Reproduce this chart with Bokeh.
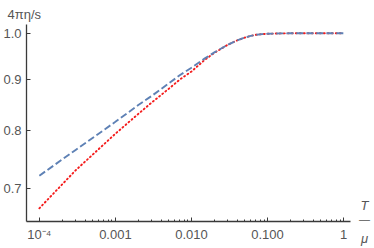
from bokeh.plotting import figure
from bokeh.models import Range1d, FixedTicker, Label
from bokeh.layouts import row
from bokeh.embed import file_html
from bokeh.resources import INLINE

# data
T = [1e-4, 3e-4, 1e-3, 2e-3, 3e-3, 5e-3, 7e-3, 0.01, 0.015, 0.02, 0.03, 0.04, 0.05, 0.06, 0.07, 0.085, 0.1, 0.15, 0.2, 0.5, 1.0]
eta_blue = [0.721, 0.765, 0.816, 0.848, 0.866, 0.891, 0.908, 0.924, 0.944, 0.957, 0.974, 0.984, 0.990, 0.994, 0.9965, 0.998, 0.999, 0.9997, 1.0, 1.0, 1.0]
eta_red = [0.669, 0.730, 0.794, 0.831, 0.853, 0.880, 0.899, 0.916, 0.941, 0.956, 0.974, 0.984, 0.990, 0.994, 0.9965, 0.998, 0.999, 0.9997, 1.0, 1.0, 1.0]

x_ticks = [1e-4, 1e-3, 1e-2, 1e-1, 1.0]
x_tick_labels = ["10\u207b\u2074", "0.001", "0.010", "0.100", "1"]
x_minor = [m * 10.0 ** e for e in range(-4, 0) for m in range(2, 10)]
y_ticks = [0.7, 0.8, 0.9, 1.0]
y_tick_labels = ["0.7", "0.8", "0.9", "1.0"]
y_title = "4\u03c0\u03b7/s"
x_title_top, x_title_bottom = "T", "\u03bc"

FONT = "Liberation Sans"
TXT = "#555555"
AX = "#3a3a3a"

W, H = 356, 248
SIDE_W = 18

main = figure(width=W, height=H, x_axis_type="log", y_axis_type="log",
              x_range=Range1d(10 ** -4.169, 10 ** 0.091), y_range=Range1d(0.649, 1.0204),
              output_backend="svg", toolbar_location=None,
              min_border_left=22, min_border_right=6, min_border_top=24, min_border_bottom=22)
main.outline_line_color = None
main.xgrid.visible = False
main.ygrid.visible = False

main.line(T, eta_red, line_color="#f41c1c", line_width=1.9, line_dash="1 3", line_cap="round")
main.line(T, eta_blue, line_color="#5e81b5", line_width=1.9, line_dash="7 3")

for ax in (main.xaxis[0], main.yaxis[0]):
    ax.axis_line_color = AX
    ax.axis_line_width = 1.3
    ax.major_tick_line_color = AX
    ax.minor_tick_line_color = AX
    ax.major_tick_out = 0
    ax.major_tick_in = 4
    ax.minor_tick_out = 0
    ax.minor_tick_in = 2
    ax.major_label_text_font = FONT
    ax.major_label_text_font_size = "13px"
    ax.major_label_text_color = TXT

main.xaxis.major_label_standoff = 5
main.yaxis.major_label_standoff = 5
main.xaxis.ticker = FixedTicker(ticks=x_ticks, minor_ticks=x_minor)
main.xaxis.major_label_overrides = {t: l for t, l in zip(x_ticks, x_tick_labels)}
main.yaxis.ticker = FixedTicker(ticks=y_ticks)
main.yaxis.major_label_overrides = {t: l for t, l in zip(y_ticks, y_tick_labels)}
main.yaxis.minor_tick_line_color = None

main.title.text = y_title
main.title.align = "left"
main.title.offset = -19
main.title.standoff = 6
main.title.text_font = FONT
main.title.text_font_size = "13px"
main.title.text_font_style = "normal"
main.title.text_color = TXT

# side panel carrying the T/mu axis title
side = figure(width=SIDE_W, height=H, x_range=Range1d(0, 1), y_range=Range1d(0, 1),
              output_backend="svg", toolbar_location=None, min_border=0,
              y_axis_location=None)
side.grid.visible = False
side.outline_line_color = None
sx = side.xaxis[0]
sx.ticker = FixedTicker(ticks=[0.45], minor_ticks=[])
sx.major_label_overrides = {0.45: x_title_bottom}
sx.axis_line_color = None
sx.major_tick_line_color = None
sx.minor_tick_line_color = None
sx.major_label_standoff = 3
sx.major_label_text_font = FONT
sx.major_label_text_font_size = "13px"
sx.major_label_text_font_style = "italic"
sx.major_label_text_color = TXT

side.add_layout(Label(x=8, y=16, x_units="screen", y_units="screen", text=x_title_top,
                      text_font=FONT, text_font_size="13px", text_font_style="italic", text_color=TXT,
                      text_baseline="middle", text_align="center"))
side.add_layout(Label(x=8, y=3, x_units="screen", y_units="screen", text="\u2014",
                      text_font=FONT, text_font_size="11px", text_color=TXT,
                      text_baseline="middle", text_align="center"))

p = row(main, side, spacing=0)
open("out.html", "w").write(file_html(p, INLINE))
